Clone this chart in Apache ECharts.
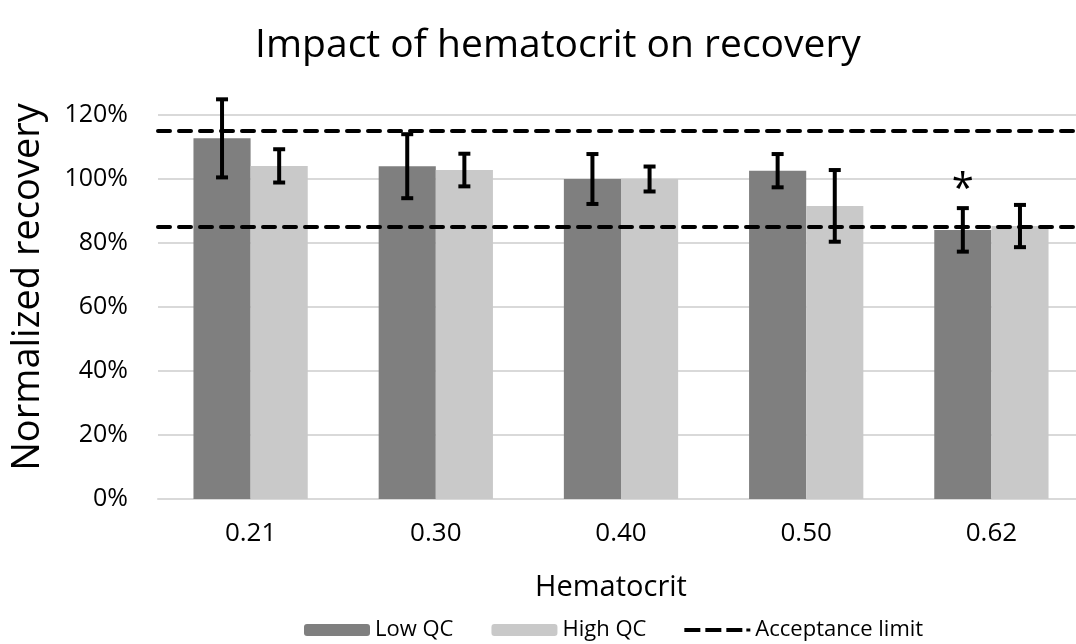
<!DOCTYPE html>
<html>
<head>
<meta charset="utf-8">
<script src="https://cdn.jsdelivr.net/npm/echarts@6/dist/echarts.min.js"></script>
<style>
  html, body { margin: 0; padding: 0; background: #fff; overflow: hidden; }
  /* the plot area runs a little past the right edge of the frame, as in the source */
  #chart { width: 1086px; height: 644px; }
</style>
</head>
<body>
<div id="chart"></div>
<script>
const categories = ['0.21', '0.30', '0.40', '0.50', '0.62']
const lowQC = [112.7, 104.0, 100.0, 102.6, 84.1]
const highQC = [104.1, 102.8, 100.0, 91.6, 85.3]
const lowErr = [12.2, 10.0, 7.8, 5.2, 6.8]
const highErr = [5.2, 5.1, 3.9, 11.2, 6.6]
const lowMarks = ['', '', '', '', '*']
const limits = [115, 85]
const yTicks = [0, 20, 40, 60, 80, 100, 120]

const FONT = '"Open Sans", "Liberation Sans", sans-serif'
const GAP = 0.383
// three dashes and a dot, like the office-style legend key
const DASH_ICON = 'path://M0,0h16v4h-16z M21,0h16v4h-16z M42,0h16v4h-16z M62,0.5h4v3h-4z'

const chart = echarts.init(document.getElementById('chart'))

// whiskers drawn on top of each bar, shifted to the bar's centre
const errorBars = (sign, marks) => (params, api) => {
  const i = api.value(0)
  const v = api.value(1)
  const e = api.value(2)
  const top = api.coord([i, v + e])
  const bot = api.coord([i, v - e])
  const band = api.size([1, 0])[0]
  const barW = band * (1 - GAP) / 2
  const x = top[0] + sign * barW / 2
  const style = { stroke: '#000', lineWidth: 4 }
  const children = [
    { type: 'line', shape: { x1: x, y1: top[1], x2: x, y2: bot[1] }, style },
    { type: 'line', shape: { x1: x - 6, y1: top[1], x2: x + 6, y2: top[1] }, style },
    { type: 'line', shape: { x1: x - 6, y1: bot[1], x2: x + 6, y2: bot[1] }, style }
  ]
  const mark = marks && marks[params.dataIndex]
  if (mark) {
    children.push({
      type: 'text',
      x: x,
      y: top[1] + 2,
      style: { text: mark, font: '40px ' + FONT, fill: '#000', align: 'center', verticalAlign: 'bottom' }
    })
  }
  return { type: 'group', children }
}

const option = {
  animation: false,
  backgroundColor: '#fff',
  graphic: [
    {
      type: 'text', x: 558, y: 46,
      style: { text: 'Impact of hematocrit on recovery', font: '39px ' + FONT, fill: '#000', align: 'center', verticalAlign: 'middle' }
    },
    {
      type: 'text', x: 28, y: 287, rotation: Math.PI / 2,
      style: { text: 'Normalized recovery', font: '38px ' + FONT, fill: '#000', align: 'center', verticalAlign: 'middle' }
    }
  ],
  legend: {
    data: [
      { name: 'Low QC' },
      { name: 'High QC' },
      { name: 'Acceptance limit', icon: DASH_ICON }
    ],
    left: 299,
    top: 614,
    itemWidth: 66,
    itemHeight: 12,
    itemGap: 38,
    textStyle: { fontFamily: FONT, fontSize: 22, color: '#000' }
  },
  grid: { left: 158, right: 2, top: 115, bottom: 145 },
  xAxis: {
    type: 'category',
    data: categories,
    name: 'Hematocrit',
    nameLocation: 'middle',
    nameGap: 74,
    nameTextStyle: { fontFamily: FONT, fontSize: 29, color: '#000', padding: [0, 20, 0, 0] },
    axisLine: { lineStyle: { color: '#d9d9d9', width: 2 } },
    axisTick: { show: false },
    axisLabel: { fontFamily: FONT, fontSize: 26, color: '#000', margin: 22 }
  },
  yAxis: {
    type: 'value',
    min: yTicks[0],
    max: yTicks[yTicks.length - 1],
    interval: 20,
    axisLine: { show: false },
    axisTick: { show: false },
    splitLine: { lineStyle: { color: '#d9d9d9', width: 2 } },
    axisLabel: { fontFamily: FONT, fontSize: 25, color: '#000', margin: 30, formatter: '{value}%' }
  },
  series: [
    {
      name: 'Low QC',
      type: 'bar',
      data: lowQC,
      barGap: 0,
      barCategoryGap: (GAP * 100) + '%',
      itemStyle: { color: '#7f7f7f' }
    },
    {
      name: 'High QC',
      type: 'bar',
      data: highQC,
      itemStyle: { color: '#c9c9c9' }
    },
    {
      name: 'Acceptance limit',
      type: 'line',
      data: [],
      symbol: 'none',
      lineStyle: { color: '#000', width: 4, type: [12, 9], cap: 'round' },
      itemStyle: { color: '#000' },
      markLine: {
        silent: true,
        symbol: 'none',
        label: { show: false },
        lineStyle: { color: '#000', width: 4, type: [12, 9], cap: 'round' },
        data: limits.map(v => ({ yAxis: v }))
      }
    },
    {
      type: 'custom',
      renderItem: errorBars(-1, lowMarks),
      data: lowQC.map((v, i) => [i, v, lowErr[i]]),
      z: 5
    },
    {
      type: 'custom',
      renderItem: errorBars(1, null),
      data: highQC.map((v, i) => [i, v, highErr[i]]),
      z: 5
    }
  ]
}

chart.setOption(option)
</script>
</body>
</html>
